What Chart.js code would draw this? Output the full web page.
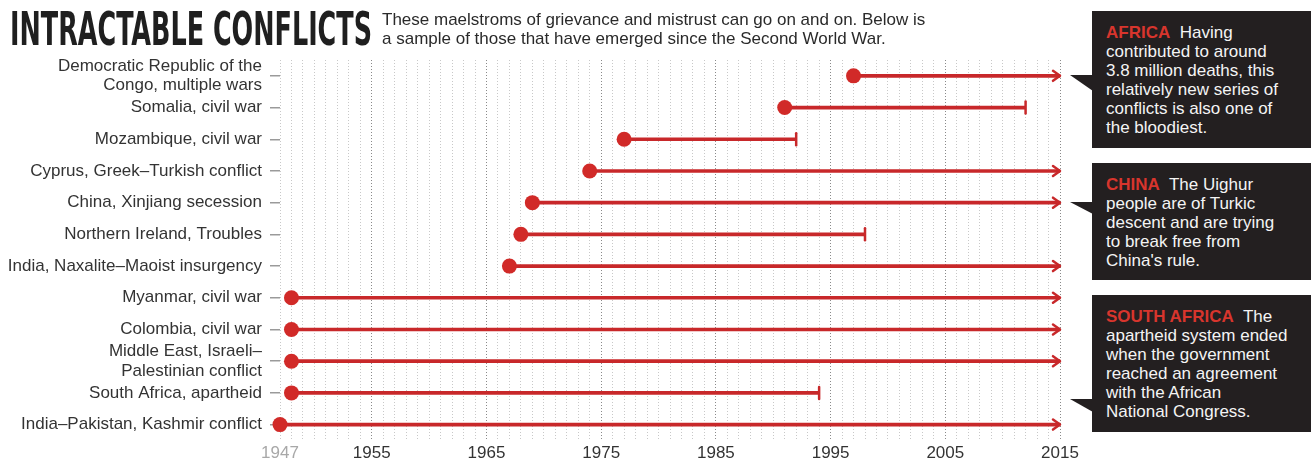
<!DOCTYPE html>
<html>
<head>
<meta charset="utf-8">
<title>Intractable conflicts</title>
<script src="https://cdn.jsdelivr.net/npm/chart.js@4.4.1/dist/chart.umd.min.js"></script>
<style>
  body { margin: 0; background: #fff; }
  #wrap { position: relative; width: 1311px; height: 463px; overflow: hidden; }
  #wrap canvas { position: absolute; left: 0; top: 0; }
  .note {
    position: absolute; left: 1092px; width: 219px; box-sizing: border-box;
    padding: 12px 0 0 14px; background: #231f20; color: #f4f4f4;
    font: 17px/19px "Liberation Sans", Arial, sans-serif; white-space: nowrap;
  }
  .note b { color: #d8352d; }
  .tip {
    position: absolute; left: 1070px; width: 23px; background: #231f20;
    clip-path: polygon(0 0, 100% 0, 100% 100%);
  }
</style>
</head>
<body>
<div id="wrap">
  <canvas id="conflicts" width="1311" height="468"></canvas>
  <div class="note" style="top:11px;height:137px"><b>AFRICA</b>&nbsp; Having<br>contributed to around<br>3.8 million deaths, this<br>relatively new series of<br>conflicts is also one of<br>the bloodiest.</div>
  <div class="tip" style="top:75px;height:16px"></div>
  <div class="note" style="top:163px;height:117px"><b>CHINA</b>&nbsp; The Uighur<br>people are of Turkic<br>descent and are trying<br>to break free from<br>China's rule.</div>
  <div class="tip" style="top:202px;height:12px"></div>
  <div class="note" style="top:295px;height:137px"><b>SOUTH AFRICA</b>&nbsp; The<br>apartheid system ended<br>when the government<br>reached an agreement<br>with the African<br>National Congress.</div>
  <div class="tip" style="top:399px;height:13px"></div>
</div>
<script>
//------------------------------------------------------------
// Intractable conflicts since the Second World War
//------------------------------------------------------------
const titleText = 'INTRACTABLE CONFLICTS';
const subtitleLines = [
    'These maelstroms of grievance and mistrust can go on and on. Below is',
    'a sample of those that have emerged since the Second World War.'
];
const conflictLabels = [
    ['Democratic Republic of the', 'Congo, multiple wars'],
    'Somalia, civil war',
    'Mozambique, civil war',
    'Cyprus, Greek\u2013Turkish conflict',
    'China, Xinjiang secession',
    'Northern Ireland, Troubles',
    'India, Naxalite\u2013Maoist insurgency',
    'Myanmar, civil war',
    'Colombia, civil war',
    ['Middle East, Israeli\u2013', 'Palestinian conflict'],
    'South Africa, apartheid',
    'India\u2013Pakistan, Kashmir conflict'
];
const startYears = [1997, 1991, 1977, 1974, 1969, 1968, 1967, 1948, 1948, 1948, 1948, 1947];
const endYears   = [2015, 2012, 1992, 2015, 2015, 1998, 2015, 2015, 2015, 2015, 1994, 2015];
const ongoing    = [true, false, false, true, true, false, true, true, true, true, false, true];
const yearTicks  = [1947, 1955, 1965, 1975, 1985, 1995, 2005, 2015];

const red = '#c8282a';
const dotRed = '#d12a28';

Chart.defaults.font.family = '"Liberation Sans", Arial, sans-serif';

/**
 * @name endMarks - arrow for ongoing conflicts, cap for ended ones
 */
const endMarks = {
    id: 'endMarks',
    afterDatasetsDraw(chart) {
        const {ctx, scales: {x, y}} = chart;
        ctx.save();
        ctx.strokeStyle = red;
        ctx.lineWidth = 2.5;
        ctx.lineCap = 'round';
        ctx.lineJoin = 'round';
        endYears.forEach((end, i) => {
            const px = x.getPixelForValue(end);
            const py = y.getPixelForValue(i);
            ctx.beginPath();
            if (ongoing[i]) {
                ctx.moveTo(px - 7, py - 5);
                ctx.lineTo(px, py);
                ctx.lineTo(px - 7, py + 5);
            } else {
                ctx.moveTo(px, py - 6);
                ctx.lineTo(px, py + 6);
            }
            ctx.stroke();
        });
        ctx.restore();
    }
};

/**
 * @name headline - title and standfirst
 */
const headline = {
    id: 'headline',
    afterDraw(chart) {
        const ctx = chart.ctx;
        ctx.save();
        ctx.textBaseline = 'alphabetic';
        ctx.fillStyle = '#1f1f1f';
        ctx.font = 'bold 46px "Liberation Sans Narrow", "DejaVu Sans Condensed", sans-serif';
        ctx.fillText(titleText, 10, 45, 362);
        ctx.fillStyle = '#2a2a2a';
        ctx.font = '17px "Liberation Sans", Arial, sans-serif';
        subtitleLines.forEach((t, i) => ctx.fillText(t, 382, 25 + i * 19));
        ctx.restore();
    }
};

const chart = new Chart(document.getElementById('conflicts'), {
    type: 'bar',
    data: {
        labels: conflictLabels,
        datasets: [
            {
                type: 'line',
                label: 'Start',
                indexAxis: 'y',
                data: startYears,
                showLine: false,
                pointRadius: 7.5,
                pointHoverRadius: 7.5,
                pointBackgroundColor: dotRed,
                pointBorderWidth: 0,
                clip: false,
                order: 0
            },
            {
                label: 'Duration',
                data: startYears.map((s, i) => [s, endYears[i]]),
                backgroundColor: red,
                barThickness: 3,
                borderSkipped: false,
                clip: false,
                order: 1
            }
        ]
    },
    options: {
        indexAxis: 'y',
        responsive: false,
        animation: false,
        layout: {padding: {top: 60, right: 251, left: 0, bottom: 0}},
        plugins: {legend: {display: false}, tooltip: {enabled: false}},
        scales: {
            x: {
                type: 'linear',
                min: 1947,
                max: 2015,
                grid: {
                    color: c => (c.tick && c.tick.value % 10 === 5) ? '#8a8a8a' : '#c8c8c8',
                    lineWidth: 1,
                    drawTicks: false
                },
                border: {display: false, dash: [1, 2]},
                ticks: {
                    stepSize: 1,
                    autoSkip: false,
                    maxRotation: 0,
                    padding: 3,
                    font: {size: 17},
                    color: c => c.tick.value === 1947 ? '#a8a8a8' : '#333',
                    callback: v => yearTicks.includes(v) ? String(v) : ''
                },
                afterFit: s => { s.height = 21; }
            },
            y: {
                type: 'category',
                offset: true,
                grid: {
                    display: true,
                    drawOnChartArea: false,
                    offset: false,
                    drawTicks: true,
                    tickLength: 10,
                    color: '#9a9a9a',
                    lineWidth: 1.5
                },
                border: {display: false},
                ticks: {autoSkip: false, padding: 8, font: {size: 17, lineHeight: 1.15}, color: '#333'},
                afterFit: s => { s.width = 280; }
            }
        }
    },
    plugins: [endMarks, headline]
});
</script>
</body>
</html>
